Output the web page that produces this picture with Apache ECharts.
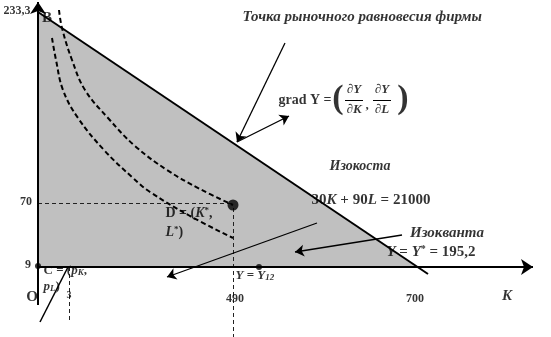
<!DOCTYPE html>
<html><head><meta charset="utf-8">
<script src="https://cdn.jsdelivr.net/npm/echarts@6/dist/echarts.min.js"></script>
<style>html,body{margin:0;padding:0;background:#fff}#c{width:551px;height:337px}</style>
</head><body><div id="c"></div>
<script>
// Schematic figure (not to scale): coordinates are in the diagram's own units.
// Isocost 30K + 90L = 21000, B = (0, 233,3), K-intercept 700
const isocostArea = [[0, 255], [379.5, 0]];
const isocostLine = [[0, 255], [390, -7]];
// Isoquants (dashed)
const isoquantOuter = [[21,257],[24,239],[34,207],[47,177],[70,149],[97,121],[129,97],[162,78],[195,62]];
const isoquantInner = [[14,229],[18,207],[25,177],[40,149],[66,117],[95,89],[112,75],[152,51],[195,29]];
// Equilibrium point D = (K*, L*) = (490, 70)
const pointD = [195, 62];
const smallDots = [[0, 1], [221, 0]];
// Tick labels
const yTickLabels = [['233,3', [-21, 256]], ['70', [-12, 65]], ['9', [-10, 2]]];
const xTickLabels = [['490', [197, -32]], ['700', [377, -32]]];
// Guides and arrows
const axisSegments = [[[0,-38],[0,265]], [[0,0],[495,0]]];
const dashedGuides = [[[0,64],[195,64]], [[195,59],[195,-70]], [[31,0],[31,-55]]];
const plainSegments = [[[2,-55],[30,0]]];
const arrowSegments = [[[247,224],[199,125]], [[199,125],[251,151]], [[364,32],[257,15]], [[279,44],[129,-10]]];
const fractionBars = [[[307,167],[325,167]], [[335,167],[353,167]]];

const FF = '"Liberation Serif","Times New Roman",serif';
function rich(sz){
  return {
    n:{fontFamily:FF,fontWeight:'bold',fontSize:sz,color:'#000'},
    i:{fontFamily:FF,fontWeight:'bold',fontStyle:'italic',fontSize:sz,color:'#000'},
    s:{fontFamily:FF,fontWeight:'bold',fontSize:Math.round(sz*0.65),color:'#000',verticalAlign:'top'},
    si:{fontFamily:FF,fontWeight:'bold',fontStyle:'italic',fontSize:Math.round(sz*0.7),color:'#000',verticalAlign:'bottom'}
  };
}
// [text, position, fontSize, align]
const texts = [
  ['{n|B}', [9, 249], 15, 'center'],
  ['{n|O}', [-6, -30], 15, 'center'],
  ['{i|K}', [469, -29], 15, 'center'],
  ['{i|Точка рыночного равновесия фирмы}', [204, 250], 15, 'left'],
  ['{n|grad Y =}', [267, 167], 14, 'center'],
  ['{n|(}', [300, 168], 34, 'center'],
  ['{n|)}', [365, 168], 34, 'center'],
  ['{n|∂}{i|Y}', [316, 177], 13, 'center'],
  ['{n|∂}{i|K}', [316, 157], 13, 'center'],
  ['{n|,}', [329, 161], 13, 'center'],
  ['{n|∂}{i|Y}', [344, 177], 13, 'center'],
  ['{n|∂}{i|L}', [344, 157], 13, 'center'],
  ['{i|Изокоста}', [322, 101], 14, 'center'],
  ['{n|30}{i|K}{n| + 90}{i|L}{n| = 21000}', [333, 67], 15, 'center'],
  ['{i|Изокванта}', [409, 34], 15, 'center'],
  ['{i|Y}{n| = }{i|Y}{s|*}{n| = 195,2}', [393, 15], 15, 'center'],
  ['{n|D = (}{i|K}{s|*}{n|,}', [127, 54], 14, 'left'],
  ['{i|L}{s|*}{n|)}', [127, 35], 14, 'left'],
  ['{n|C = (}{i|p}{si|K}{n|,}', [5, -4], 13, 'left'],
  ['{i|p}{si|L}{n|)}', [5, -20], 13, 'left'],
  ['{n|3}', [31, -28], 10, 'center'],
  ['{i|Y}{n| = }{i|Y}{si|1}{si|2}', [197, -9], 13, 'left']
];
yTickLabels.concat(xTickLabels).forEach(t => texts.push(['{n|' + t[0] + '}', t[1], 12, 'center']));

const textData = texts.map(t => ({
  value: t[1],
  label: {
    show: true,
    formatter: t[0],
    rich: rich(t[2]),
    position: t[3] === 'left' ? 'right' : 'inside',
    distance: 0,
    align: t[3] === 'left' ? 'left' : 'center',
    verticalAlign: 'middle'
  }
}));

const seg = arr => arr.map(c => ({coords: c}));

const chart = echarts.init(document.getElementById('c'), null, {renderer: 'canvas'});
chart.setOption({
  animation: false,
  backgroundColor: '#fff',
  grid: {left: 0, right: 0, top: 0, bottom: 0},
  xAxis: {type: 'value', min: -38, max: 513, show: false},
  yAxis: {type: 'value', min: -70, max: 267, show: false},
  series: [
    {type: 'line', data: isocostArea, symbol: 'none', lineStyle: {width: 0}, areaStyle: {color: '#c0c0c0', opacity: 1}, z: 1},
    {type: 'line', data: isoquantOuter, smooth: 0.4, symbol: 'none', lineStyle: {color: '#000', width: 2, type: [5, 3]}, z: 3},
    {type: 'line', data: isoquantInner, smooth: 0.4, symbol: 'none', lineStyle: {color: '#000', width: 2, type: [5, 3]}, z: 3},
    {type: 'lines', coordinateSystem: 'cartesian2d', data: seg([isocostLine]), lineStyle: {color: '#000', width: 2, opacity: 1}, z: 4},
    {type: 'lines', coordinateSystem: 'cartesian2d', data: seg(dashedGuides), lineStyle: {color: '#222', width: 1, type: [4, 3], opacity: 1}, z: 3},
    {type: 'lines', coordinateSystem: 'cartesian2d', data: seg(plainSegments), lineStyle: {color: '#000', width: 1.5, opacity: 1}, z: 4},
    {type: 'lines', coordinateSystem: 'cartesian2d', data: seg(fractionBars), lineStyle: {color: '#000', width: 1, opacity: 1}, z: 4},
    {type: 'lines', coordinateSystem: 'cartesian2d', data: seg(arrowSegments), symbol: ['none', 'arrow'], symbolSize: 9, lineStyle: {color: '#000', width: 1.3, opacity: 1}, z: 5},
    {type: 'lines', coordinateSystem: 'cartesian2d', data: seg(axisSegments), symbol: ['none', 'arrow'], symbolSize: [9, 12], lineStyle: {color: '#000', width: 2, opacity: 1}, z: 5},
    {type: 'scatter', data: [pointD], symbolSize: 11, itemStyle: {color: '#000'}, z: 6},
    {type: 'scatter', data: smallDots, symbolSize: 6, itemStyle: {color: '#000'}, z: 6},
    {type: 'scatter', data: textData, symbolSize: 1, itemStyle: {color: 'rgba(0,0,0,0)'}, z: 7}
  ]
});
</script></body></html>
